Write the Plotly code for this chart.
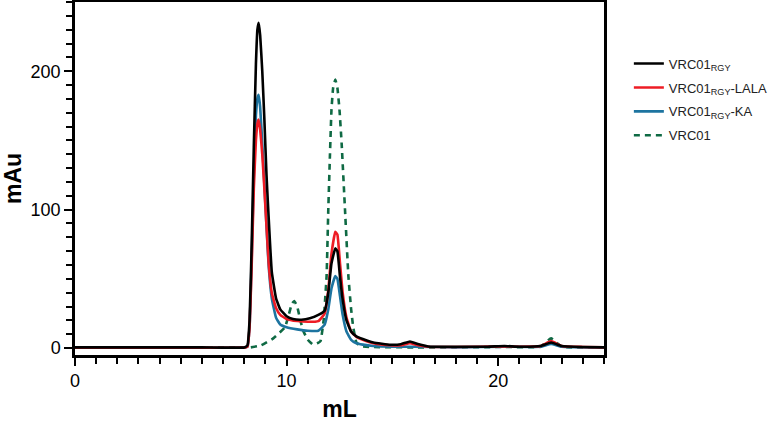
import plotly.graph_objects as go

# ---- data ----
rgy_x = [0, 2, 4, 6, 8.0, 8.15, 8.25, 8.35, 8.45, 8.55, 8.62, 8.68, 8.75, 8.85, 8.95, 9.05, 9.15, 9.3, 9.5,
         9.7, 10.0, 10.3, 10.7, 11.1, 11.5, 11.8, 11.97, 12.12, 12.3, 12.4, 12.52, 12.65, 12.83, 13.05, 13.3,
         13.6, 14.1, 14.9, 15.4, 15.83, 16.2, 16.8, 18, 19.5, 20.3, 21, 22, 22.5, 23, 24, 25]
rgy_y = [0.5, 0.5, 0.5, 0.5, 0.5, 2, 20, 75, 145, 205, 230, 235, 226, 200, 165, 125, 95, 55, 36,
         28, 23, 21, 20.5, 21.5, 24, 27, 40, 61, 72, 70, 52, 35, 20, 12, 8.4,
         6.5, 4, 2.4, 2.8, 4.8, 3, 1, 1, 1, 1.5, 1, 1.5, 4, 1.5, 0.8, 0.5]

lala_x = [0, 2, 4, 6, 8.0, 8.15, 8.25, 8.35, 8.45, 8.55, 8.63, 8.68, 8.75, 8.85, 8.95, 9.05, 9.15, 9.3, 9.5,
          9.7, 10.0, 10.5, 11.0, 11.5, 11.8, 11.97, 12.12, 12.3, 12.4, 12.52, 12.65, 12.83, 13.05, 13.3,
          13.6, 14.1, 14.9, 15.4, 15.83, 16.2, 16.8, 18, 20.3, 21, 22, 22.5, 23, 24, 25]
lala_y = [0.3, 0.3, 0.3, 0.3, 0.3, 1, 15, 60, 115, 150, 163, 165, 158, 140, 115, 88, 62, 40, 29,
          24, 21, 19.5, 19, 19.5, 25, 42, 68, 84, 82, 62, 40, 22, 12, 8,
          6, 3.5, 2, 2, 3.5, 2, 0.8, 0.8, 1.2, 1, 1.5, 5, 1.5, 0.8, 0.5]

ka_x = [0, 2, 4, 6, 8.0, 8.15, 8.25, 8.35, 8.45, 8.55, 8.63, 8.68, 8.75, 8.85, 8.95, 9.05, 9.15, 9.3, 9.5,
        9.7, 10.0, 10.5, 11.0, 11.5, 11.8, 11.97, 12.12, 12.3, 12.4, 12.52, 12.65, 12.83, 13.05, 13.3,
        13.6, 14.1, 15, 16, 18, 20.3, 22, 22.5, 23, 25]
ka_y = [0.3, 0.3, 0.3, 0.3, 0.3, 1, 15, 65, 125, 168, 181, 183, 174, 148, 118, 88, 60, 36, 22,
        17, 15, 13.5, 12.5, 12.5, 17, 28, 43, 52, 50, 38, 24, 12, 6, 3.5,
        2.5, 1.5, 1, 1, 0.5, 1, 1, 3, 1, 0.3]

vrc01_x = [0, 2, 4, 6, 8.0, 8.3, 8.8, 9.37, 9.92, 10.1, 10.25, 10.36, 10.5, 10.65, 10.8, 11.0, 11.25, 11.45,
           11.6, 11.75, 11.89, 11.97, 12.05, 12.12, 12.2, 12.3, 12.4, 12.5, 12.6, 12.76, 12.92, 13.05, 13.15,
           13.3, 13.5, 14, 16, 18, 20.3, 22, 22.5, 23, 25]
vrc01_y = [0.5, 0.5, 0.5, 0.5, 0.5, 0.5, 2, 7, 15, 24, 32, 34, 30, 20, 12, 6, 2.5, 3.5,
           5, 20, 52, 100, 140, 172, 188, 194, 188, 172, 148, 100, 52, 28, 15,
           4, 1.5, 0.8, 0.5, 0.5, 0.8, 1, 7, 1, 0.5]

names = ["VRC01<sub>RGY</sub>", "VRC01<sub>RGY</sub>-LALA", "VRC01<sub>RGY</sub>-KA", "VRC01"]
colors = ["#000000", "#ee1c25", "#1d74a0", "#0f6a44"]

FONT = "Liberation Sans, Arial, sans-serif"

fig = go.Figure()
series = [(rgy_x, rgy_y), (lala_x, lala_y), (ka_x, ka_y), (vrc01_x, vrc01_y)]
traces = {}
for i, (xs, ys) in enumerate(series):
    traces[i] = go.Scatter(
        x=xs, y=ys, mode="lines", name=names[i],
        line=dict(color=colors[i], width=2.6, shape="spline", smoothing=0.35,
                  dash="6px,5px" if i == 3 else "solid"),
        legendrank=i + 1, legendgroup=str(i),
    )
for i in [3, 2, 1, 0]:  # draw black on top
    fig.add_trace(traces[i])

axis_common = dict(
    showline=True, linecolor="black", linewidth=2.5, mirror=True,
    ticks="outside", tickcolor="black", tickwidth=2, ticklen=8,
    showgrid=False, zeroline=False, automargin=False,
    tickfont=dict(family=FONT, size=18, color="black"),
)

fig.update_layout(
    width=771, height=422,
    margin=dict(l=75, r=167, t=2, b=67, autoexpand=False),
    paper_bgcolor="white", plot_bgcolor="white",
    font=dict(family=FONT, color="black"),
    xaxis=dict(range=[0, 25], tickvals=[0, 10, 20],
               minor=dict(dtick=1, ticks="outside", ticklen=6, tickwidth=2, tickcolor="black"),
               title=dict(text="<b>mL</b>", font=dict(family=FONT, size=23), standoff=11),
               **axis_common),
    yaxis=dict(range=[-5, 250], tickvals=[0, 100, 200],
               minor=dict(tick0=0, dtick=10, ticks="outside", ticklen=6, tickwidth=2, tickcolor="black"),
               title=dict(text="<b>mAu</b>", font=dict(family=FONT, size=23), standoff=9),
               **axis_common),
    showlegend=True,
    legend=dict(x=1.047, y=0.868, xanchor="left", yanchor="top",
                font=dict(family=FONT, size=13, color="#222"),
                tracegroupgap=4, bgcolor="rgba(0,0,0,0)"),
)

fig.write_html("out.html", config={"displayModeBar": False},
               post_script="document.body.style.margin='0px';")
